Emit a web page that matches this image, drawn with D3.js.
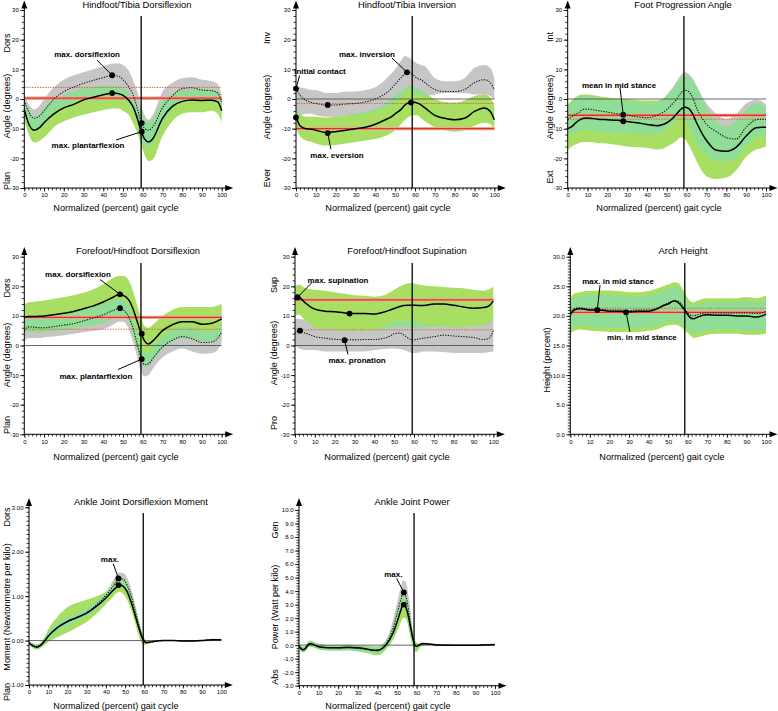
<!DOCTYPE html>
<html><head><meta charset="utf-8">
<script src="https://cdn.jsdelivr.net/npm/d3@7"></script>
<style>body{margin:0;background:#fff}svg{display:block}</style>
</head><body><svg id="c" width="778" height="711"></svg>
<script>
// ---------- DATA ----------
const G = [0,2,5,8,10,15,20,25,30,35,40,45,48,50,53,55,57,59,61,63,65,70,75,80,85,90,95,98,100];
const G7 = [0,2,4,6,8,10,15,20,25,30,35,40,43,45,47,49,51,53,55,57,59,60,61,63,65,70,75,80,85,90,95,100];
const G8 = [0,1,2,3,4,5,6,8,10,15,20,25,30,35,38,40,42,44,46,48,50,52,53,54,55,56,57,58,59,60,61,63,65,70,80,90,100];

const titles = ["Hindfoot/Tibia Dorsiflexion","Hindfoot/Tibia Inversion","Foot Progression Angle",
  "Forefoot/Hindfoot Dorsiflexion","Forefoot/Hindfoot Supination","Arch Height",
  "Ankle Joint Dorsiflexion Moment","Ankle Joint Power"];
const yLabels = ["Angle (degrees)","Angle (degrees)","Angle (degrees)","Angle (degrees)","Angle (degrees)",
  "Height (percent)","Moment (Newtonmetre per kilo)","Power (Watt per kilo)"];
const yTopLabels = ["Dors","Inv","Int","Dors","Sup","","Dors","Gen"];
const yBotLabels = ["Plan","Ever","Ext","Plan","Pro","","Plan","Abs"];
const xLabel = "Normalized (percent) gait cycle";
const xTicks = [0,10,20,30,40,50,60,70,80,90,100];
const yTicksAngle = [-30,-20,-10,0,10,20,30];
const yTicksArch = [0,5,10,15,20,25,30];
const yTicksMoment = [-1,0,1,2,3];
const yTicksPower = [-3,-2,-1,0,1,2,3,4,5,6,7,8,9,10];
const stanceEnd = [59.2,58.6,58.6,59.1,59.1,58.5,59.4,58.7];
const refSolid = [0.3,-10,-5.5,9.5,15.4,20.6,null,null];
const refDotted = [3.9,-1.5,-6.8,5.5,5.3,21.3,null,null];

// Panel 1
const p1Solid = [-3.5,-8,-10.5,-9.5,-8,-5,-3,-1.8,-0.3,0.6,1.4,2,1.8,1.2,-0.5,-2.5,-6,-10.5,-13.5,-14.5,-13.5,-6.5,-2.5,-0.8,-0.3,-0.5,-0.4,-1,-4];
const p1SolidHi = [-0.5,-3.5,-6,-5,-3,-0.5,1.5,2.5,3.5,4,4.5,4.5,4.2,3.5,2,0,-2.5,-5,-7,-8,-7,-1,1.5,3,3.2,3.2,3,2.5,0];
const p1SolidLo = [-7,-11.5,-14.7,-14,-13,-9.5,-7.5,-6.2,-5.3,-4.5,-3.7,-3.2,-3.3,-4,-5.5,-8,-11,-15,-19,-21,-20.5,-12.5,-7.5,-5,-4.5,-4.5,-4,-5,-8];
const p1Dot = [-0.5,-4,-6.5,-5.5,-4,0,2.5,4,5.3,6.3,7.2,8,7.6,6.5,4,1.5,-2.5,-7.5,-10,-10.5,-9.5,-3,1,3.5,3.8,3,2.8,2,-1];
const p1DotHi = [1.5,-1.5,-3.5,-2,0,4,6.5,8,9,10,11,12,12,11.5,9.5,6.5,3,-2,-5.5,-7,-5.5,2.5,5.5,7,7.3,6.5,6,5,1.5];
const p1DotLo = [-4,-8,-10.5,-10,-8.5,-5,-2.5,-1,0.3,1,1.3,1.3,1.3,0.5,-1.5,-4,-8,-13,-16,-16,-15,-8,-3.5,-0.5,0.3,0,-0.5,-1.5,-4];
const p1Marks = [[44.5,8],[44.5,2],[59.5,-8.1],[59.5,-11]];

// Panel 2
const p2Solid = [-6,-9,-10,-10.2,-10.5,-11.3,-11,-10.5,-10,-9.5,-8.5,-7,-6,-5,-3.5,-2,-1.2,-1,-1.3,-2,-3,-5.5,-6.5,-7,-6.5,-4.2,-3,-4.2,-7];
const p2SolidHi = [-2.5,-5,-6,-6,-6,-6.3,-6,-5.5,-5,-4.5,-3.3,-1.5,0,1,2.5,3.5,4.5,4,3.7,3,2,0,-1,-1.2,-0.5,1,1.5,0.5,-2.5];
const p2SolidLo = [-9.5,-12.5,-14,-14.5,-15,-15.7,-15.5,-15,-14.5,-14,-13.5,-12.5,-11.5,-10.5,-8.5,-7,-6,-5.5,-5.5,-6.5,-7.5,-9.5,-10.5,-11,-10.5,-9,-8,-8.5,-10.5];
const p2Dot = [3.5,1.3,-0.5,-1.2,-1.5,-2,-2,-1.7,-1.5,-1,0,1.8,3.5,5,7.2,8.5,9,8.2,7,6.5,5.5,3.2,2.5,2.5,3.2,5.5,6.5,5.5,3];
const p2DotHi = [4,4,3.5,3,3,2,2,2.5,2.5,3,4,6.5,8.5,10,13,14.5,14,13,12,11.5,11,7,6,6,7,10.5,11.5,10.5,7];
const p2DotLo = [-5,-5.5,-5,-5,-5.5,-6,-6,-5.5,-5.5,-5,-4,-3,-2,-1,1,2.5,3,2.5,2,1.5,1,1.5,2,2,2,1.5,1.5,1,-0.5];
const p2Marks = [[0,3.5],[0,-6.2],[16,-2],[16,-11.5],[56,9],[58,-1.2]];

// Panel 3
const p3Solid = [-10,-9.3,-7.5,-6.5,-6.4,-6.8,-7,-7.2,-7.6,-8,-8.6,-9,-8.6,-8,-6.5,-5,-3.5,-2.8,-3.2,-5,-8,-14,-17.3,-17.6,-16.2,-12.5,-9.7,-9.5,-9.5];
const p3SolidHi = [-2,-0.5,1,1.5,1.5,1,0.5,0.2,0,-0.3,-0.5,-0.5,0,1,3,5,7,8,7.5,6,4,-3,-7.5,-9.3,-7.5,-3.5,-1.5,-2,-3];
const p3SolidLo = [-17,-16,-15,-14.5,-14.5,-14.8,-15,-15.5,-16,-16.3,-16.5,-17,-16.8,-16,-15,-14,-13,-13.5,-15.5,-18,-21,-26,-27,-26.5,-24,-19.5,-17,-16.5,-16];
const p3Dot = [-7,-6,-4.8,-3.5,-3.4,-3.9,-4.4,-5,-5.5,-6,-6.3,-5.5,-4.5,-3.5,-1.5,0,2,3,2.5,0.5,-3,-8.5,-11,-13,-13.5,-9.5,-7,-6.8,-7];
const p3DotHi = [-2.5,-1,0.5,1,1,0.5,0,-0.5,-0.5,-1,-1.5,-1,0,1.5,4,6,8,9,8.5,7,4.5,-1.5,-5,-6.8,-5,-1.5,-0.3,-0.8,-2];
const p3DotLo = [-12,-11.5,-11,-10.5,-10.5,-11,-11,-11.5,-11.5,-12,-12,-11.5,-11,-10,-8.5,-7.5,-6.5,-7,-9,-12,-15,-19,-21,-21,-20,-16,-13,-12.5,-12.5];
const p3Marks = [[28,-5.3],[28,-7.5]];

// Panel 4
const p4Solid = [9.5,9.8,9.8,9.9,10,10.4,10.9,11.5,12.4,13.4,14.7,16.3,17.2,17,15.3,12.5,8.5,4.5,1.5,0.5,1.5,5,7,8,8,7.2,7.5,8.3,9];
const p4SolidHi = [14,14.5,14.8,15,15.2,15.8,16.3,17,17.8,19,20.7,22.8,23.5,23.5,22,18.5,14,9.5,6.5,6,7,10,12,13,13,13,13,13.5,14];
const p4SolidLo = [4.5,4.5,4.5,4.5,4.6,5,5.4,5.8,6.5,7,7.5,9,10,10,8,4,-1,-5,-7,-6.5,-5,-1,1.5,2.5,2.5,1.5,1.5,2.5,4];
const p4Dot = [5,6.3,6.2,6,6,6.4,6.9,7.4,8.3,9.3,10.4,11.8,12.5,12.1,9.5,6,1,-4,-6.5,-6.2,-4.5,-0.5,1.8,3,2.3,1,1.2,2.5,4.5];
const p4DotHi = [8.5,9.5,9.5,9.5,9.5,10,10.5,11,12,13,14,15.5,16,15.5,13,9.5,5,0,-2.5,-2.5,-1,3,5.5,6.5,6,5,5,6,8];
const p4DotLo = [1.5,2.5,2.5,2.5,2.8,3,3.5,4,4.5,5,5.5,7,8,8,5.5,1.5,-3.5,-8.5,-10.5,-10,-8,-4,-2,-1,-2,-2.8,-2.5,-1.5,1];
const p4Marks = [[48.5,17.3],[48.5,12.6],[59.5,4],[59.5,-4.6]];

// Panel 5
const p5Solid = [15.5,16.2,14.5,13,12.3,11.6,11.4,11,10.8,10.8,10.6,11.3,12,12.5,13.2,13.5,13.6,13.6,13.6,13.5,13.5,14,14,13.6,13,12.6,12.8,13.5,15];
const p5SolidHi = [20,20.5,19.5,19,18.8,18.5,18,17.5,17,16.8,16.5,17,18,18.8,20,20.5,21,21,20.8,20.5,20.3,20,19.8,19.5,19.3,18.8,18.5,19,20];
const p5SolidLo = [10,10.5,8.5,7,6.2,5.5,5.2,5,5,5,5.3,5.8,6,6.2,6.3,6.2,6,6,6,6,6.2,6.5,6.3,6.2,6.2,6.5,6.8,7.5,9.5];
const p5Dot = [4,5,4.2,3.5,3,2.5,2.1,2,1.9,2,2,2.5,3.2,4,4.2,3.5,2.5,1.9,2,2.3,2.5,3,3.5,3.2,3,2.7,2,2.5,5];
const p5DotHi = [9,9,8.5,7.5,6.5,5.6,5.3,5.1,5.1,5.1,5.4,6.5,7.5,8,8.3,8.3,8.2,8,8,7.5,7,6.8,6.5,6.3,6.3,6.6,7,8,9.5];
const p5DotLo = [0,-1,-1.5,-1.5,-1.5,-2,-2,-2,-2,-2,-1.5,-1.2,-1,-1,-1.2,-1.5,-2,-2.5,-2.5,-2.3,-2,-2,-2.2,-2.5,-2.5,-2.5,-2.5,-2.2,-2];
const p5Marks = [[1.3,16.3],[27.5,10.8],[2.5,5],[25,1.8]];

// Panel 6
const p6Solid = [20.2,21,21.2,21.1,21,21,20.8,20.8,20.7,20.8,20.8,21.3,21.8,22,22.5,22.3,21.6,20.7,19.8,19.5,19.8,20.2,20.1,20.1,20,20,19.8,20,20.3];
const p6SolidHi = [23,23.8,24,24.2,24.2,24.3,24.3,24.2,24,24,24.2,24.7,25.1,25.3,25.7,25.6,24.8,23.5,22.6,22.3,22.6,23,23,23,23,23.2,23,23.2,23.5];
const p6SolidLo = [17,17.5,17.7,17.6,17.5,17.4,17.3,17.3,17.3,17.3,17.5,17.8,18.2,18.4,18.5,18.4,18,17.4,16.8,16.3,16.4,16.8,17,17,17,16.8,16.8,16.9,17];
const p6Dot = [20.5,21.2,21.4,21.2,21.1,21.1,21,21,20.9,21,21,21.4,21.9,22.2,22.6,22.5,21.9,20.9,20.2,20,20.2,20.5,20.5,20.5,20.5,20.5,20.4,20.5,20.8];
const p6DotHi = [22.3,23,23.3,23.5,23.5,23.6,23.6,23.5,23.3,23.3,23.5,24,24.4,24.6,25,24.9,24.1,22.8,21.9,21.6,21.9,22.3,22.3,22.3,22.3,22.5,22.3,22.5,22.8];
const p6DotLo = [17.7,18.2,18.4,18.3,18.2,18.1,18,18,18,18,18.2,18.5,18.9,19.1,19.2,19.1,18.7,18.1,17.5,17,17.1,17.5,17.7,17.7,17.7,17.5,17.5,17.6,17.7];
const p6Marks = [[13.8,21.0],[28.5,20.6]];

// Panel 7
const p7Solid = [-0.05,-0.12,-0.15,-0.11,-0.02,0.1,0.3,0.43,0.52,0.62,0.77,0.96,1.1,1.18,1.25,1.22,1.1,0.88,0.6,0.3,0.05,-0.02,-0.05,-0.04,-0.02,0,0,-0.01,-0.01,0,0.02,0.02];
const p7SolidHi = [-0.01,-0.08,-0.1,-0.05,0.07,0.25,0.55,0.75,0.85,0.92,1.0,1.1,1.2,1.32,1.4,1.38,1.28,1.05,0.78,0.45,0.15,0.05,-0.02,-0.02,0,0.01,0.01,0.01,0.01,0.01,0.03,0.03];
const p7SolidLo = [-0.1,-0.17,-0.2,-0.17,-0.1,-0.03,0.08,0.18,0.3,0.42,0.6,0.82,0.95,1.05,1.1,1.05,0.92,0.7,0.42,0.12,-0.08,-0.1,-0.08,-0.06,-0.03,-0.01,-0.01,-0.02,-0.02,-0.01,0.01,0.01];
const p7Dot = [-0.05,-0.1,-0.13,-0.1,0,0.1,0.3,0.42,0.53,0.63,0.8,1.02,1.18,1.3,1.4,1.38,1.25,1.02,0.7,0.37,0.08,0,-0.03,-0.03,-0.02,0,0,0,-0.01,0,0.02,0.02];
const p7DotHi = [-0.02,-0.06,-0.08,-0.05,0.06,0.18,0.4,0.52,0.62,0.72,0.9,1.1,1.3,1.45,1.53,1.52,1.42,1.18,0.85,0.48,0.15,0.04,0,-0.01,0,0.01,0.01,0.01,0.01,0.01,0.04,0.04];
const p7DotLo = [-0.08,-0.14,-0.18,-0.15,-0.06,0.02,0.2,0.32,0.44,0.54,0.7,0.92,1.05,1.15,1.25,1.22,1.08,0.85,0.55,0.25,0,-0.04,-0.06,-0.05,-0.03,-0.01,-0.01,-0.01,-0.02,-0.01,0,0];
const p7Marks = [[46.5,1.4],[46.5,1.25]];

// Panel 8
const p8Solid = [-0.1,-0.25,-0.35,-0.3,-0.1,0.05,0.1,0,-0.12,-0.2,-0.2,-0.15,-0.2,-0.3,-0.38,-0.4,-0.3,-0.05,0.35,0.9,1.7,2.6,3.0,2.95,2.6,2.0,1.25,0.55,0.05,-0.1,-0.02,0.1,0.1,0.02,0,0,0.05];
const p8SolidHi = [0.05,-0.05,-0.15,-0.1,0.1,0.25,0.3,0.2,0.08,0,0,0.05,0,-0.05,-0.1,-0.1,0,0.2,0.7,1.4,2.4,3.3,3.7,3.6,3.3,2.6,1.8,0.9,0.4,0.2,0.1,0.2,0.15,0.04,0.02,0.02,0.07];
const p8SolidLo = [-0.25,-0.45,-0.55,-0.5,-0.3,-0.15,-0.1,-0.2,-0.32,-0.4,-0.4,-0.35,-0.45,-0.6,-0.72,-0.75,-0.65,-0.4,-0.05,0.4,1.0,1.7,2.0,2.0,1.8,1.2,0.5,-0.1,-0.45,-0.5,-0.3,-0.05,0.02,0,-0.02,-0.02,0.03];
const p8Dot = [-0.1,-0.2,-0.3,-0.25,-0.05,0.1,0.12,0,-0.1,-0.18,-0.2,-0.2,-0.25,-0.3,-0.35,-0.35,-0.25,0,0.5,1.25,2.3,3.4,3.85,3.8,3.35,2.5,1.5,0.6,0,-0.1,0,0.1,0.08,0.03,0,0,0.02];
const p8DotHi = [0.1,0,-0.1,-0.05,0.15,0.3,0.32,0.2,0.1,0.02,0,0,-0.05,-0.1,-0.12,-0.1,0,0.3,0.9,1.9,3.1,4.3,4.8,4.75,4.4,3.5,2.4,1.2,0.4,0.1,0.1,0.2,0.15,0.06,0.02,0.02,0.05];
const p8DotLo = [-0.3,-0.4,-0.5,-0.45,-0.25,-0.1,-0.08,-0.2,-0.3,-0.38,-0.4,-0.4,-0.45,-0.55,-0.62,-0.65,-0.55,-0.3,0.1,0.6,1.5,2.5,2.9,2.85,2.3,1.5,0.6,0,-0.35,-0.3,-0.1,0,0.01,0,-0.02,-0.02,-0.01];
const p8Marks = [[53.5,3.9],[53.5,3.0]];

// annotations (anchor positions in data units)
const notes = [
  [{t:"max. dorsiflexion",at:[31.8,15.2],from:[36.8,13.1],to:[44.5,8]},
   {t:"max. plantarflexion",at:[32.3,-15.5],from:[46.5,-13.8],to:[59.5,-11]}],
  [{t:"Initial contact",at:[12.1,9.4],from:[1.8,7.9],to:[0,3.5]},
   {t:"max. inversion",at:[35.8,15.2],from:[48.4,13.8],to:[56,9]},
   {t:"max. eversion",at:[20.7,-18.9],from:[17.6,-16.9],to:[16,-11.5]}],
  [{t:"mean in mid stance",at:[25.9,4.7],from:[26.4,3.7],to:[28,-5.3]}],
  [{t:"max. dorsiflexion",at:[27.2,24],from:[38.3,22.3],to:[48.5,17.3]},
   {t:"max. plantarflexion",at:[36.3,-10.5],from:[47.5,-8.1],to:[59.5,-4.6]}],
  [{t:"max. supination",at:[21.7,22],from:[8.6,21.3],to:[1.3,16.3]},
   {t:"max. pronation",at:[31.3,-5.1],from:[26.7,-3.0],to:[25,1.8]}],
  [{t:"max. in mid stance",at:[24.4,25.9],from:[15.2,25.2],to:[13.8,21.0]},
   {t:"min. in mid stance",at:[36.6,16.4],from:[30.5,17.3],to:[28.5,20.6]}],
  [{t:"max.",at:[42.1,1.83],from:[43.8,1.73],to:[46.5,1.4]}],
  [{t:"max.",at:[48.1,5.24],from:[49.8,4.94],to:[53.5,3.9]}]
];

// ---------- LAYOUT ----------
const FONT = '"Liberation Sans", Arial, Helvetica, sans-serif';
const fInt = v => String(v);
const L = [
 {x0:24.3,x1:221.7,yT:10,yB:188,dom:[-30,30],ticks:yTicksAngle,minor:2,fmt:fInt,tip:0.5,vTop:16,tY:7.5,tX:137,xlX:116,xlY:211,ylX:10,ylY:[43,106,181]},
 {x0:296,x1:494.3,yT:10,yB:188,dom:[-30,30],ticks:yTicksAngle,minor:2,fmt:fInt,tip:0.5,vTop:16,tY:7.5,tX:407,xlX:388,xlY:211,ylX:270,ylY:[38,107,178]},
 {x0:567.7,x1:766,yT:10,yB:188,dom:[-30,30],ticks:yTicksAngle,minor:2,fmt:fInt,tip:0.5,vTop:16,tY:7.5,tX:683,xlX:659,xlY:211,ylX:553,ylY:[37,107,177]},
 {x0:24.3,x1:221.7,yT:256.7,yB:434.3,dom:[-30,30],ticks:yTicksAngle,minor:2,fmt:fInt,tip:247,vTop:263,tY:254,tX:138,xlX:116,xlY:460,ylX:10,ylY:[288,355,425]},
 {x0:295,x1:493.3,yT:256.7,yB:434.3,dom:[-30,30],ticks:yTicksAngle,minor:2,fmt:fInt,tip:247,vTop:263,tY:254,tX:407,xlX:387,xlY:460,ylX:277,ylY:[285,353,423]},
 {x0:570.3,x1:766,yT:256.7,yB:434.3,dom:[0,30],ticks:yTicksArch,minor:0.5,fmt:v=>v.toFixed(1),tip:247,vTop:263,tY:254,tX:683,xlX:662,xlY:460,ylX:550,ylY:[0,360,0],noZero:true},
 {x0:29,x1:221.3,yT:507.3,yB:685,dom:[-1,3],ticks:yTicksMoment,minor:0.1,fmt:v=>v.toFixed(2),tip:498,vTop:513,tY:505,tX:141,xlX:116,xlY:709,ylX:10,ylY:[517,607,692]},
 {x0:299,x1:495,yT:510,yB:685.7,dom:[-3,10],ticks:yTicksPower,minor:0.2,fmt:v=>v.toFixed(1),tip:498,vTop:513,tY:505,tX:412,xlX:388,xlY:709,ylX:278,ylY:[530,607,677]}
];
const D = [
 {xs:G,s:p1Solid,sHi:p1SolidHi,sLo:p1SolidLo,d:p1Dot,dHi:p1DotHi,dLo:p1DotLo,m:p1Marks},
 {xs:G,s:p2Solid,sHi:p2SolidHi,sLo:p2SolidLo,d:p2Dot,dHi:p2DotHi,dLo:p2DotLo,m:p2Marks},
 {xs:G,s:p3Solid,sHi:p3SolidHi,sLo:p3SolidLo,d:p3Dot,dHi:p3DotHi,dLo:p3DotLo,m:p3Marks},
 {xs:G,s:p4Solid,sHi:p4SolidHi,sLo:p4SolidLo,d:p4Dot,dHi:p4DotHi,dLo:p4DotLo,m:p4Marks},
 {xs:G,s:p5Solid,sHi:p5SolidHi,sLo:p5SolidLo,d:p5Dot,dHi:p5DotHi,dLo:p5DotLo,m:p5Marks},
 {xs:G,s:p6Solid,sHi:p6SolidHi,sLo:p6SolidLo,d:p6Dot,dHi:p6DotHi,dLo:p6DotLo,m:p6Marks},
 {xs:G7,s:p7Solid,sHi:p7SolidHi,sLo:p7SolidLo,d:p7Dot,dHi:p7DotHi,dLo:p7DotLo,m:p7Marks},
 {xs:G8,s:p8Solid,sHi:p8SolidHi,sLo:p8SolidLo,d:p8Dot,dHi:p8DotHi,dLo:p8DotLo,m:p8Marks}
];
const COL = {gray:"#c6c6c6", lime:"#a8df62", mint:"#8fdd96", red:"#d8381f", redHalo:"#f2a596", redDot:"#e4582f"};

const svg = d3.select("#c").style("font-family", FONT);
svg.append("rect").attr("width",778).attr("height",711).attr("fill","#fff");
const defs = svg.append("defs");

function stepRange(a,b,s){ const n=Math.round((b-a)/s); return d3.range(n+1).map(k=>+(a+k*s).toFixed(4)); }

L.forEach((c,i)=>{
  const dd = D[i];
  const x = d3.scaleLinear().domain([0,100]).range([c.x0,c.x1]);
  const y = d3.scaleLinear().domain(c.dom).range([c.yB,c.yT]);
  const g = svg.append("g");
  const idx = d3.range(dd.xs.length);
  const area = (lo,hi)=> d3.area().x(k=>x(dd.xs[k])).y0(k=>y(lo[k])).y1(k=>y(hi[k])).curve(d3.curveMonotoneX)(idx);
  const line = arr => d3.line().x(k=>x(dd.xs[k])).y(k=>y(arr[k])).curve(d3.curveMonotoneX)(idx);

  const grayPath = area(dd.dLo, dd.dHi), greenPath = area(dd.sLo, dd.sHi);
  defs.append("clipPath").attr("id","cg"+i).append("path").attr("d",greenPath);
  g.append("path").attr("d",grayPath).attr("fill",COL.gray);
  g.append("path").attr("d",greenPath).attr("fill",COL.lime);
  g.append("path").attr("d",grayPath).attr("fill",COL.mint).attr("clip-path",`url(#cg${i})`);

  if(!c.noZero) g.append("line").attr("x1",x(0)).attr("x2",x(100)).attr("y1",y(0)).attr("y2",y(0))
      .attr("stroke","#555").attr("stroke-width",0.9);
  if(refSolid[i]!==null){
    g.append("line").attr("x1",x(0)).attr("x2",x(100)).attr("y1",y(refSolid[i])).attr("y2",y(refSolid[i]))
      .attr("stroke",COL.redHalo).attr("stroke-width",3.2);
    g.append("line").attr("x1",x(0)).attr("x2",x(100)).attr("y1",y(refSolid[i])).attr("y2",y(refSolid[i]))
      .attr("stroke",COL.red).attr("stroke-width",1.4);
    g.append("line").attr("x1",x(0)).attr("x2",x(100)).attr("y1",y(refDotted[i])).attr("y2",y(refDotted[i]))
      .attr("stroke",COL.redDot).attr("stroke-width",1).attr("stroke-dasharray","1.3,1.3");
  }
  g.append("path").attr("d",line(dd.d)).attr("fill","none").attr("stroke","#111").attr("stroke-width",1.05).attr("stroke-dasharray","1.3,1.3");
  g.append("path").attr("d",line(dd.s)).attr("fill","none").attr("stroke","#000").attr("stroke-width",1.5);

  // stance line
  g.append("line").attr("x1",x(stanceEnd[i])).attr("x2",x(stanceEnd[i])).attr("y1",c.vTop).attr("y2",c.yB)
    .attr("stroke","#000").attr("stroke-width",1.3);

  // markers
  g.selectAll("circle.m").data(dd.m).join("circle").attr("cx",p=>x(p[0])).attr("cy",p=>y(p[1])).attr("r",2.9).attr("fill","#000");

  // annotations
  notes[i].forEach(n=>{
    g.append("line").attr("x1",x(n.from[0])).attr("y1",y(n.from[1])).attr("x2",x(n.to[0])).attr("y2",y(n.to[1]))
      .attr("stroke","#000").attr("stroke-width",1);
    g.append("text").attr("x",x(n.at[0])).attr("y",y(n.at[1])).attr("dy","0.35em").attr("text-anchor","middle")
      .attr("font-size",8).attr("font-weight","bold").attr("fill","#000").text(n.t);
  });

  // axes
  const ya = g.append("g").attr("transform",`translate(${c.x0},0)`)
    .call(d3.axisLeft(y).tickValues(c.ticks).tickSize(4).tickPadding(1.5).tickFormat(c.fmt));
  ya.select(".domain").remove();
  ya.attr("font-family",FONT).attr("font-size",6);
  const ym = g.append("g").attr("transform",`translate(${c.x0},0)`)
    .call(d3.axisLeft(y).tickValues(stepRange(c.dom[0],c.dom[1],c.minor)).tickSize(2.5).tickFormat(""));
  ym.select(".domain").remove();
  const xa = g.append("g").attr("transform",`translate(0,${c.yB})`)
    .call(d3.axisBottom(x).tickValues(xTicks).tickSize(3.5).tickPadding(1.5).tickFormat(fInt));
  xa.select(".domain").remove();
  xa.attr("font-family",FONT).attr("font-size",6);
  const xm = g.append("g").attr("transform",`translate(0,${c.yB})`)
    .call(d3.axisBottom(x).tickValues(d3.range(0,101,2)).tickSize(2.2).tickFormat(""));
  xm.select(".domain").remove();
  g.selectAll(".tick line").attr("stroke-width",0.8);

  const tipX = c.x1 + 11.5;
  g.append("line").attr("x1",c.x0).attr("x2",c.x0).attr("y1",c.tip+3).attr("y2",c.yB).attr("stroke","#000").attr("stroke-width",1);
  g.append("line").attr("x1",c.x0).attr("x2",tipX-3).attr("y1",c.yB).attr("y2",c.yB).attr("stroke","#000").attr("stroke-width",1);
  g.append("path").attr("d",`M${c.x0},${c.tip}L${c.x0-3},${c.tip+8}L${c.x0+3},${c.tip+8}Z`).attr("fill","#000");
  g.append("path").attr("d",`M${tipX},${c.yB}L${tipX-8},${c.yB-3}L${tipX-8},${c.yB+3}Z`).attr("fill","#000");

  // titles & labels
  g.append("text").attr("x",c.tX).attr("y",c.tY).attr("text-anchor","middle").attr("font-size",9.4).attr("fill","#000").text(titles[i]);
  g.append("text").attr("x",c.xlX).attr("y",c.xlY).attr("text-anchor","middle").attr("font-size",9.1).attr("fill","#000").text(xLabel);
  const ylab = [yTopLabels[i], yLabels[i], yBotLabels[i]];
  ylab.forEach((t,k)=>{
    if(!t) return;
    g.append("text").attr("transform",`translate(${c.ylX},${c.ylY[k]}) rotate(-90)`).attr("text-anchor","middle")
      .attr("font-size",9.1).attr("fill","#000").text(t);
  });
});
</script>
</body></html>
